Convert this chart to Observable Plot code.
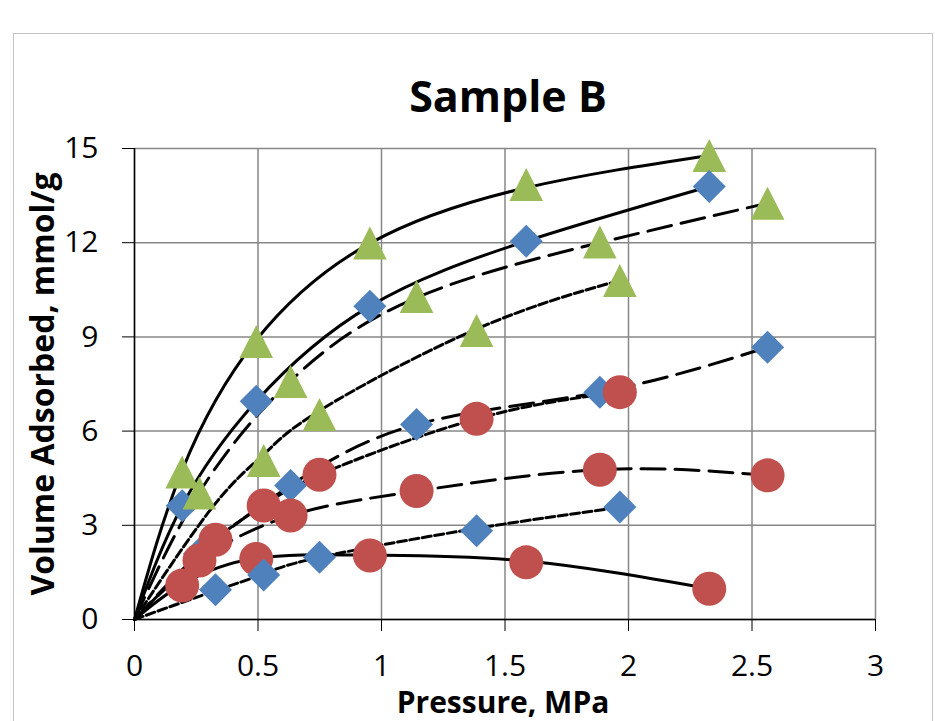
<!DOCTYPE html>
<html>
<head>
<meta charset="utf-8">
<script src="https://cdn.jsdelivr.net/npm/d3@7"></script>
<script src="https://cdn.jsdelivr.net/npm/@observablehq/plot@0.6"></script>
<style>
  html, body { margin: 0; padding: 0; background: #fff; overflow: hidden; }
  #wrap { position: relative; width: 935px; height: 721px; }
  #frame { position: absolute; left: 13px; top: 33px; width: 920px; height: 760px;
           border: 1.5px solid #c4c4c4; box-sizing: border-box; pointer-events: none; }
</style>
</head>
<body>
<div id="wrap"><div id="frame"></div></div>
<script>
// ---- data ----
const title = "Sample B";
const xLabel = "Pressure, MPa";
const yLabel = "Volume Adsorbed, mmol/g";
const xTicks = [0, 0.5, 1, 1.5, 2, 2.5, 3];
const yTicks = [0, 3, 6, 9, 12, 15];
const origin = [0, 0];

// three pressure sets (each drawn with its own line style)
const pressA = [0.193, 0.493, 0.953, 1.586, 2.327];
const pressB = [0.263, 0.632, 1.142, 1.884, 2.563];
const pressC = [0.328, 0.523, 0.749, 1.385, 1.965];

// measured points: green triangles
const triA = [4.70, 8.85, 11.99, 13.85, 14.78];
const triB = [4.03, 7.58, 10.29, 12.02, 13.26];
const triC = [null, 5.06, 6.53, 9.20, 10.80];
// blue diamonds
const diaA = [3.62, 6.95, 9.98, 12.05, 13.79];
const diaB = [2.09, 4.27, 6.21, 7.24, 8.67];
const diaC = [0.95, 1.42, 1.98, 2.83, 3.58];
// red circles
const cirA = [1.08, 1.93, 2.04, 1.82, 0.98];
const cirB = [1.88, 3.31, 4.09, 4.77, 4.59];
const cirC = [2.54, 3.63, 4.61, 6.39, 7.24];

// fitted curves (black lines), values at each set's pressures
const fitTriA = [4.75, 8.90, 11.98, 13.75, 14.78];
const fitTriB = [4.05, 7.60, 10.25, 12.00, 13.26];
const fitTriC = [3.70, 5.25, 6.65, 9.25, 10.80];
const fitDiaA = [3.62, 6.95, 9.98, 12.05, 13.79];
const fitDiaB = [2.09, 4.27, 6.21, 7.24, 8.67];
const fitDiaC = [0.92, 1.45, 1.98, 2.90, 3.57];
const fitCirA = [1.12, 1.95, 2.05, 1.86, 0.98];
const fitCirB = [1.88, 3.31, 4.09, 4.77, 4.59];
const fitCirC = [2.54, 3.63, 4.61, 6.39, 7.24];

// ---- styling ----
const colors = {tri: "#9BBB59", dia: "#4F81BD", cir: "#C0504D"};
const dashes = {A: null, B: "24,10", C: "9,3.5"};

const triangleSymbol = {
  draw(ctx, size) {
    const r = Math.sqrt(size / Math.PI);
    ctx.moveTo(0, -r);
    ctx.lineTo(r * 1.02, r);
    ctx.lineTo(-r * 1.02, r);
    ctx.closePath();
  }
};
const diamondSymbol = {
  draw(ctx, size) {
    const r = Math.sqrt(size / Math.PI);
    ctx.moveTo(0, -r);
    ctx.lineTo(r, 0);
    ctx.lineTo(0, r);
    ctx.lineTo(-r, 0);
    ctx.closePath();
  }
};
const symbols = {tri: triangleSymbol, dia: diamondSymbol, cir: "circle"};
const radii = {tri: 16.5, dia: 16.5, cir: 17};

const sets = [
  {key: "A", press: pressA, tri: triA, dia: diaA, cir: cirA, fit: {tri: fitTriA, dia: fitDiaA, cir: fitCirA}},
  {key: "B", press: pressB, tri: triB, dia: diaB, cir: cirB, fit: {tri: fitTriB, dia: fitDiaB, cir: fitCirB}},
  {key: "C", press: pressC, tri: triC, dia: diaC, cir: cirC, fit: {tri: fitTriC, dia: fitDiaC, cir: fitCirC}}
];
const shapes = ["tri", "dia", "cir"];

function pts(press, vals) {
  return press.map((p, i) => ({p, v: vals[i]})).filter(d => d.v != null);
}

const lineMarks = [];
const dotMarks = [];
for (const s of sets) {
  for (const sh of shapes) {
    const data = pts(s.press, s.fit[sh]);
    lineMarks.push(Plot.line([{p: origin[0], v: origin[1]}, ...data], {
      x: "p", y: "v", curve: "natural", stroke: "black", strokeWidth: 3,
      strokeDasharray: dashes[s.key]
    }));
  }
}
for (const s of sets) {
  for (const sh of shapes) {
    const data = pts(s.press, s[sh]);
    dotMarks.push(Plot.dot(data, {
      x: "p", y: "v", symbol: symbols[sh], r: radii[sh], fill: colors[sh], stroke: "none"
    }));
  }
}

const chart = Plot.plot({
  width: 935,
  height: 721,
  marginLeft: 134,
  marginRight: 60,
  marginTop: 148,
  marginBottom: 102,
  style: {fontFamily: "'Open Sans', sans-serif", background: "transparent", color: "black"},
  x: {domain: [0, 3]},
  y: {domain: [0, 15]},
  marks: [
    Plot.gridX(xTicks, {stroke: "#878787", strokeOpacity: 1, strokeWidth: 1.5}),
    Plot.gridY(yTicks, {stroke: "#878787", strokeOpacity: 1, strokeWidth: 1.5}),
    Plot.ruleX([0], {stroke: "black", strokeWidth: 1.5}),
    Plot.ruleY([0], {stroke: "black", strokeWidth: 1.5}),
    Plot.axisX(xTicks, {tickSize: 12, tickPadding: 23, fontSize: 30, tickFormat: d => String(d), label: null, stroke: "black"}),
    Plot.axisY(yTicks, {tickSize: 12, tickPadding: 24, fontSize: 30, tickFormat: d => String(d), label: null, stroke: "black"}),
    ...lineMarks,
    ...dotMarks,
    Plot.text([title], {frameAnchor: "top", dy: -50, dx: 3, fontSize: 43, fontWeight: "bold", lineAnchor: "middle", textAnchor: "middle"}),
    Plot.text([xLabel], {frameAnchor: "bottom", dy: 84, dx: -2, fontSize: 30, fontWeight: "bold", lineAnchor: "middle", textAnchor: "middle"}),
    Plot.text([yLabel], {frameAnchor: "left", dx: -91, rotate: -90, fontSize: 32, fontWeight: "bold", lineAnchor: "middle", textAnchor: "middle"})
  ]
});
document.getElementById("wrap").insertBefore(chart, document.getElementById("frame"));
</script>
</body>
</html>
